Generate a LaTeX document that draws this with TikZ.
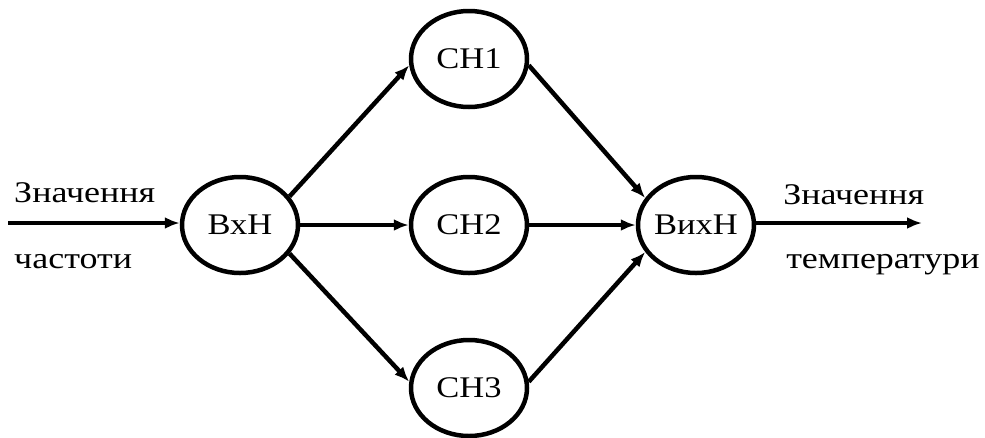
\documentclass[tikz,border=0pt]{standalone}
\usepackage{fontspec}
\setmainfont{Liberation Serif}
\usetikzlibrary{shapes.geometric,arrows.meta}
\begin{document}
\begin{tikzpicture}[x=1pt,y=-1pt,
  neuron/.style={ellipse,draw,line width=4.5pt,minimum width=116pt,minimum height=96pt,inner sep=0pt},
  ntext/.style={font=\fontsize{30}{32}\selectfont,xscale=1.15,inner sep=0pt},
  conn/.style={line width=4.5pt,-{Latex[length=15pt,width=12pt]}},
  lbl/.style={font=\fontsize{30}{32}\selectfont,xscale=1.2,inner sep=0pt,anchor=base west}]
\useasboundingbox (0,0) rectangle (985,437);
\node[neuron] (in) at (240,225) {};
\node[neuron] (h1) at (469,59) {};
\node[neuron] (h2) at (469,225) {};
\node[neuron] (h3) at (469,388) {};
\node[neuron] (out) at (696,225) {};
\node[ntext] (tin) at (in) {ВхН};
\node[ntext] (th1) at (h1) {СН1};
\node[ntext] (th2) at (h2) {СН2};
\node[ntext] (th3) at (h3) {СН3};
\node[ntext] (tout) at (out) {ВихН};
\coordinate (src) at (8,223);
\coordinate (dst) at (922,223);
\draw[conn] (src) -- (in.west |- src);
\draw[conn] (in.30) -- (h1.186);
\draw[conn] (in) -- (h2);
\draw[conn] (in.330) -- (h3.174);
\draw[conn] (h1.354) -- (out.152);
\draw[conn] (h2) -- (out);
\draw[conn] (h3.6) -- (out.208);
\draw[conn] (out.east |- dst) -- (dst);
\node[lbl] (l1) at (14,202) {Значення};
\node[lbl] (l2) at (14,268) {частоти};
\node[lbl] (r1) at (783,204) {Значення};
\node[lbl] (r2) at (786,268) {температури};
\end{tikzpicture}
\end{document}
